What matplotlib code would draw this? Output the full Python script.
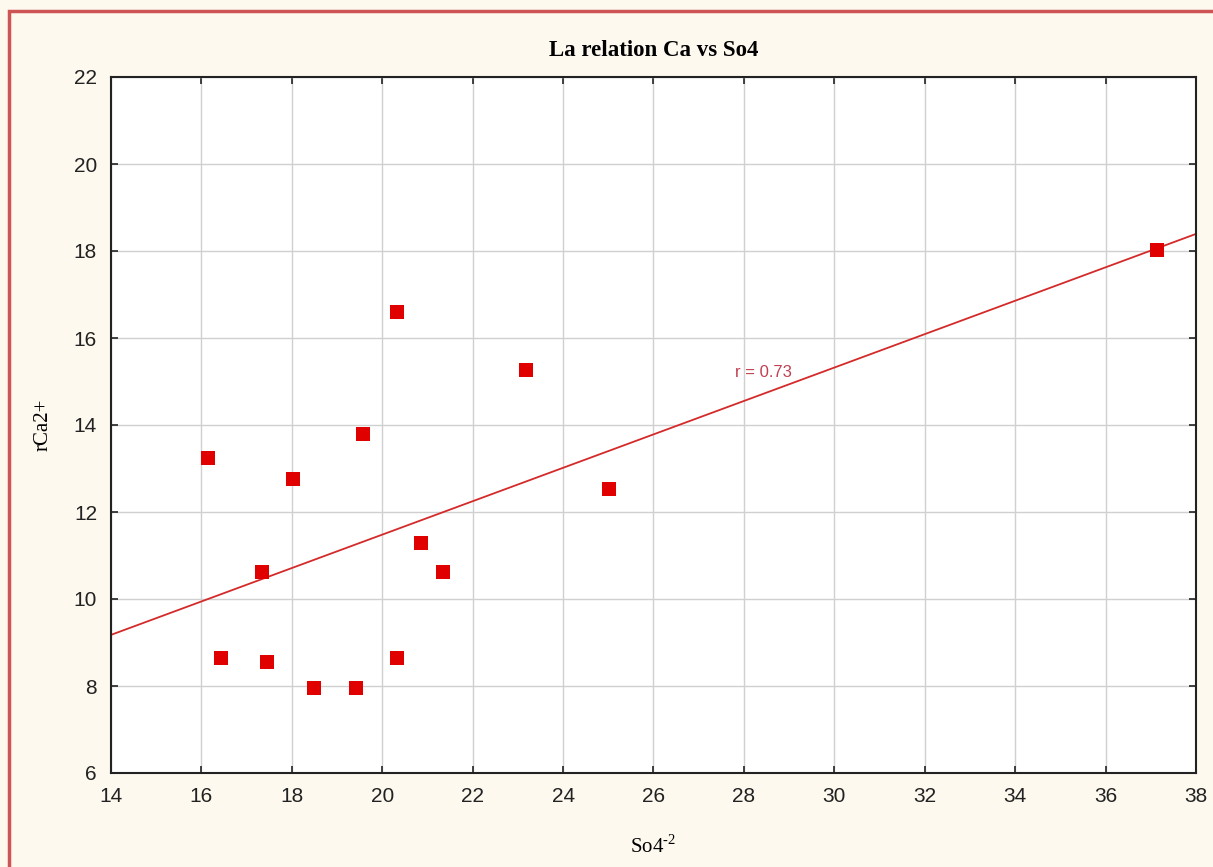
import matplotlib.pyplot as plt
import numpy as np
from matplotlib.patches import Rectangle

# data
so4 = [16.15, 16.43, 17.34, 17.45, 18.03, 18.49, 19.42, 19.58, 20.33, 20.33,
       20.86, 21.35, 23.18, 25.02, 37.14]
ca = [13.24, 8.64, 10.62, 8.55, 12.76, 7.95, 7.95, 13.79, 16.60, 8.64,
      11.29, 10.62, 15.26, 12.53, 18.02]
xticks = list(range(14, 39, 2))
yticks = list(range(6, 23, 2))
r_label = "r = 0.73"

W, H = 1213, 867
plt.rcParams["mathtext.fontset"] = "custom"
plt.rcParams["mathtext.rm"] = "Liberation Serif"
fig = plt.figure(figsize=(W / 100, H / 100), dpi=100)
fig.patch.set_facecolor("#fdf9ef")

# red frame round the figure (open at right and bottom edge)
fig.patches.append(Rectangle((8.5 / W, -0.05), 1.2, 1 - 10.5 / H + 0.05,
                             transform=fig.transFigure, fill=False,
                             edgecolor="#cd5555", linewidth=2.5))

ax = fig.add_axes([111 / W, 1 - 773 / H, (1196 - 111) / W, (773 - 77) / H])
ax.set_facecolor("white")

ax.scatter(so4, ca, marker="s", s=105, color="#e00000", zorder=3, linewidths=0)

slope, icpt = np.polyfit(so4, ca, 1)
xl = np.array([14, 38])
ax.plot(xl, slope * xl + icpt, color="#d42a2a", lw=1.3, zorder=2)
ax.text(27.8, 15.2, r_label, color="#c04050", fontsize=12,
        family="Liberation Sans", va="center")

ax.set_xlim(14, 38)
ax.set_ylim(6, 22)
ax.set_xticks(xticks)
ax.set_yticks(yticks)
ax.grid(True, color="#d0d0d0", lw=1)
ax.set_axisbelow(True)
for s in ax.spines.values():
    s.set_linewidth(1.5)
    s.set_color("#222222")
ax.tick_params(direction="in", length=5, width=1.2, labelsize=15,
               colors="#222222", pad=10, top=True, right=True)
for lab in ax.get_xticklabels() + ax.get_yticklabels():
    lab.set_family("Liberation Sans")

ax.set_title("La relation Ca vs So4", family="Liberation Serif",
             fontweight="bold", fontsize=16.5, pad=15)
ax.set_xlabel(r"So4$^{\mathrm{\text{-2}}}$", family="Liberation Serif",
              fontsize=15, labelpad=21)
ax.set_ylabel("rCa2+", family="Liberation Serif", fontsize=15, labelpad=15)

fig.savefig("out.png", dpi=100, facecolor=fig.get_facecolor())
